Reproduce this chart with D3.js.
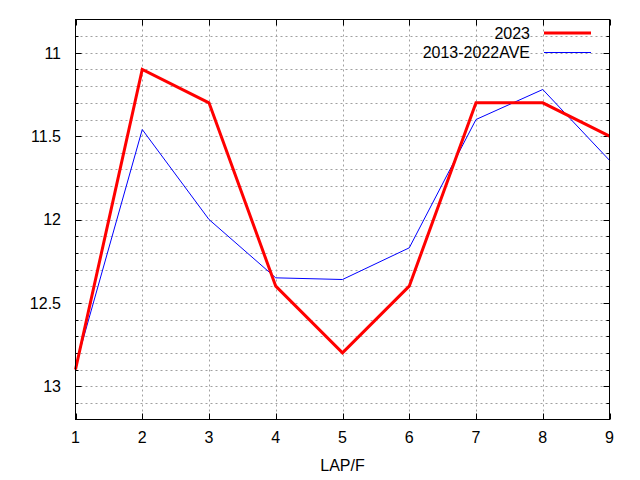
<!DOCTYPE html>
<html>
<head>
<meta charset="utf-8">
<script src="https://cdn.jsdelivr.net/npm/d3@7"></script>
<style>
html,body{margin:0;padding:0;background:#fff;}
text{font-family:"Liberation Sans",Arial,sans-serif;font-size:16px;fill:#000;}
</style>
</head>
<body>
<svg id="chart" width="640" height="480"></svg>
<script>
const laps = [1, 2, 3, 4, 5, 6, 7, 8, 9];
const series2023 = [12.9, 11.1, 11.3, 12.4, 12.8, 12.4, 11.3, 11.3, 11.5];
const seriesAve = [12.88, 11.46, 12.0, 12.35, 12.36, 12.17, 11.4, 11.22, 11.645];
const yMajorTicks = [11, 11.5, 12, 12.5, 13];
const seriesNames = ["2023", "2013-2022AVE"];
const xLabel = "LAP/F";

const svg = d3.select("#chart");
const L = 75.5, R = 609.5, T = 19.5, B = 419.5;
const x = d3.scaleLinear().domain([1, 9]).range([L, R]);
const y = d3.scaleLinear().domain([10.8, 13.2]).range([T, B]);

const minorTicks = d3.range(109, 132).map(v => v / 10);

// grid
const grid = svg.append("g").attr("stroke", "#a0a0a0").attr("stroke-width", 1).attr("stroke-dasharray", "2,3");
minorTicks.forEach(v => {
  grid.append("line").attr("x1", L).attr("x2", R).attr("y1", Math.round(y(v)) + 0.5).attr("y2", Math.round(y(v)) + 0.5);
});
laps.slice(1, -1).forEach(v => {
  grid.append("line").attr("y1", T).attr("y2", B).attr("x1", Math.round(x(v)) + 0.5).attr("x2", Math.round(x(v)) + 0.5);
});

// ticks
const ticks = svg.append("g").attr("stroke", "#000").attr("stroke-width", 1);
minorTicks.forEach(v => {
  const major = yMajorTicks.some(m => Math.abs(m - v) < 1e-6);
  const len = major ? 6 : 3;
  const yy = Math.round(y(v)) + 0.5;
  ticks.append("line").attr("x1", L).attr("x2", L + len).attr("y1", yy).attr("y2", yy);
  ticks.append("line").attr("x1", R).attr("x2", R - len).attr("y1", yy).attr("y2", yy);
});
laps.forEach(v => {
  const xx = Math.round(x(v)) + 0.5;
  ticks.append("line").attr("x1", xx).attr("x2", xx).attr("y1", B).attr("y2", B - 6);
  ticks.append("line").attr("x1", xx).attr("x2", xx).attr("y1", T).attr("y2", T + 6);
});

// tick labels
yMajorTicks.forEach(v => {
  svg.append("text").attr("x", 61).attr("y", y(v)).attr("dy", "0.36em")
    .attr("text-anchor", "end").text(d3.format("")(v));
});
laps.forEach(v => {
  svg.append("text").attr("x", x(v)).attr("y", 437).attr("dy", "0.36em")
    .attr("text-anchor", "middle").text(v);
});
svg.append("text").attr("x", (L + R) / 2).attr("y", 465).attr("dy", "0.36em")
  .attr("text-anchor", "middle").text(xLabel);

// lines
const line = d3.line().x((d, i) => x(laps[i])).y(d => y(d));
svg.append("path").datum(seriesAve).attr("d", line).attr("fill", "none")
  .attr("stroke", "#0000ff").attr("stroke-width", 1);
svg.append("path").datum(series2023).attr("d", line).attr("fill", "none")
  .attr("stroke", "#ff0000").attr("stroke-width", 3).attr("stroke-linejoin", "miter");

// frame
svg.append("rect").attr("x", L).attr("y", T).attr("width", R - L).attr("height", B - T)
  .attr("fill", "none").attr("stroke", "#000").attr("stroke-width", 1);

// legend
const legend = [
  {name: seriesNames[0], color: "#ff0000", w: 3, yy: 33},
  {name: seriesNames[1], color: "#0000ff", w: 1, yy: 52.5}
];
legend.forEach(d => {
  svg.append("text").attr("x", 530).attr("y", d.yy).attr("dy", "0.36em")
    .attr("text-anchor", "end").text(d.name);
  svg.append("line").attr("x1", 544).attr("x2", 591).attr("y1", d.yy).attr("y2", d.yy)
    .attr("stroke", d.color).attr("stroke-width", d.w);
});
</script>
</body>
</html>
